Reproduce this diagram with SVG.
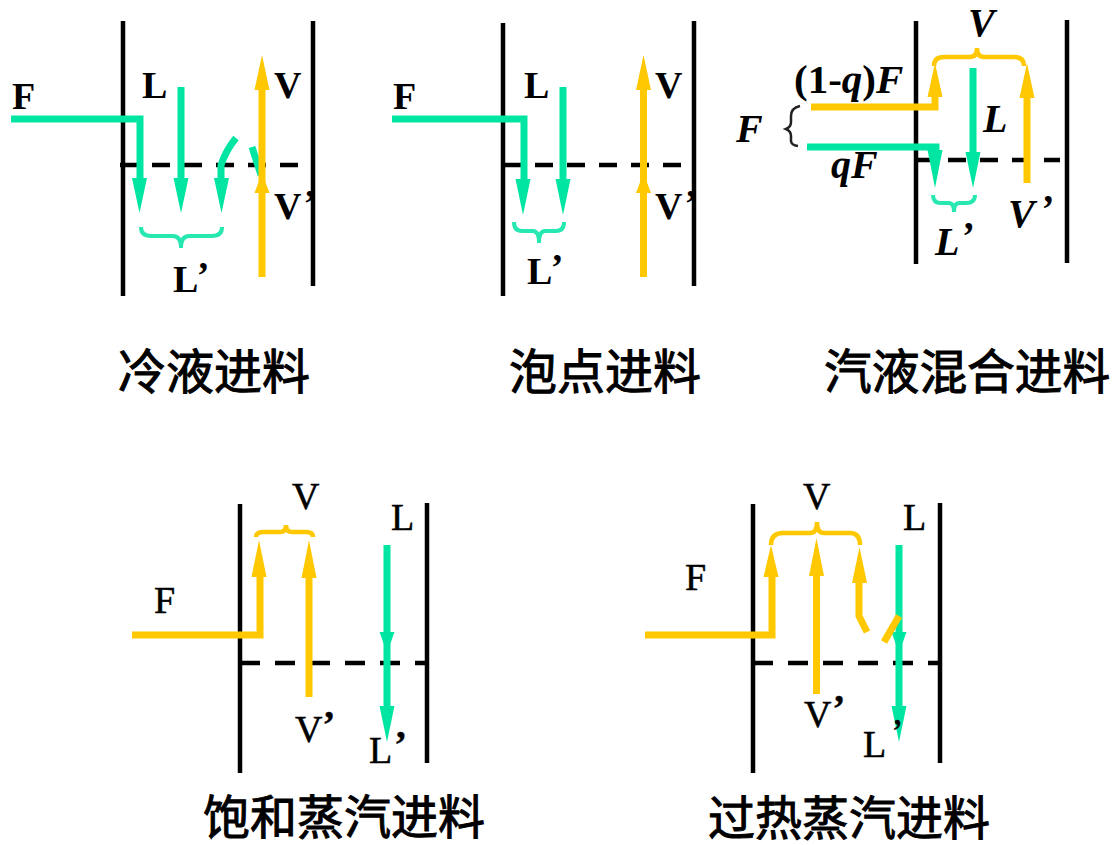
<svg xmlns="http://www.w3.org/2000/svg" width="1116" height="845" viewBox="0 0 1116 845">
<style>
.w{stroke:#000;stroke-width:4.5;fill:none}
.d{stroke:#000;stroke-width:4.5;stroke-dasharray:18 14;fill:none}
.d2{stroke-dasharray:20 15}
.g{stroke:#00e6a2;fill:none;stroke-width:7}
.y{stroke:#ffc800;fill:none;stroke-width:7}
.gb{stroke:#26e8b0;fill:none;stroke-width:4}
.yb{stroke:#ffc800;fill:none;stroke-width:4.5}
.t{font-family:"Liberation Serif",serif;font-weight:bold;font-size:38px;fill:#000}
.n{font-weight:normal;stroke:#000;stroke-width:.5}
.i{font-style:italic;font-size:40px}
.c{font-family:"Liberation Sans","Noto Sans CJK SC",sans-serif;font-size:48px;font-weight:400;fill:#000;stroke:#000;stroke-width:1}
.c2{font-size:47px}
.ga{fill:#00e6a2}.ya{fill:#ffc800}
</style>
<rect width="1116" height="845" fill="#fff"/>
<g id="column1"><path class="w" d="M123 21V296M313 21V286"/><path class="d" d="M120 165H314"/>
<text class="t" x="12" y="109">F</text><text class="t" x="142" y="98">L</text><text class="t" x="274" y="98">V</text><text class="t" x="274" y="219">V<tspan dx="2" dy="-3">’</tspan></text><text class="t" x="173" y="292">L<tspan dx="2" dy="-4">’</tspan></text><text class="c" x="118" y="389">冷液进料</text></g>
<g id="column2"><path class="w" d="M503 23V296M694 21V286"/><path class="d" d="M503 165H693"/>
<text class="t" x="393" y="109">F</text><text class="t" x="524" y="98">L</text><text class="t" x="655" y="98">V</text><text class="t" x="655" y="219">V<tspan dx="2" dy="-3">’</tspan></text><text class="t" x="527" y="284">L<tspan dx="2" dy="-4">’</tspan></text><text class="c" x="509" y="389">泡点进料</text></g>
<g id="column3"><path class="w" d="M916 21V264M1067 20V263"/><path class="d" d="M916 160H1060"/>
<path d="M800 106Q791 108 791 116V122Q791 127 786 129Q791 131 791 136V141Q791 145 798 146" fill="none" stroke="#222" stroke-width="2.5"/>
<text class="t i" x="968" y="36">V</text><text class="t" x="794" y="93" style="font-size:41px">(1-<tspan class="i" style="font-size:41px">q</tspan>)<tspan class="i" style="font-size:41px">F</tspan></text><text class="t i" x="736" y="142">F</text><text class="t i" x="983" y="132">L</text><text class="t i" x="831" y="178">qF</text><text class="t i" x="935" y="255">L<tspan dx="3" dy="-6">’</tspan></text><text class="t i" x="1008" y="227">V<tspan dx="5" dy="-5">’</tspan></text><text class="c" style="font-size:47.7px" x="824" y="389">汽液混合进料</text></g>
<g id="column4"><path class="w" d="M240 504V773M427 503V763"/><path class="d d2" d="M240 663H427"/>
<text class="t n" x="292" y="509">V</text><text class="t n" x="391" y="530">L</text><text class="t n" x="154" y="613">F</text><text class="t n" x="295" y="742">V<tspan dx="0" dy="-5" font-weight="bold">’</tspan></text><text class="t n" x="369" y="763">L<tspan dx="2" dy="-6" font-weight="bold">’</tspan></text><text class="c c2" x="203" y="834">饱和蒸汽进料</text></g>
<g id="column5"><path class="w" d="M753 504V773M940 503V763"/><path class="d d2" d="M753 663H940"/>
<text class="t n" x="803" y="509">V</text><text class="t n" x="903" y="530">L</text><text class="t n" x="685" y="590">F</text><text class="t n" x="804" y="727">V<tspan dx="1" dy="-6" font-weight="bold">’</tspan></text><text class="t n" x="863" y="757">L</text><text class="c c2" x="708" y="835">过热蒸汽进料</text></g>
<g id="connectors">
<path class="g" d="M11 119H140V180"/><path class="ga" d="M132 178h15l-7.500 35z"/>
<path class="g" d="M181 87V180"/><path class="ga" d="M173.500 178h15l-7.500 35z"/>
<path class="g" d="M236 138Q226 150 221 165V180"/><path class="ga" d="M214 178h15l-7.500 35z"/>
<path class="g" d="M252 147L261 175"/>
<path class="y" d="M262 277V88"/><path class="ya" d="M254.500 90h15l-7.500-35z"/><path class="ya" d="M254.500 193h15l-7.500-20z"/>
<path class="g" d="M392 119H524V180"/><path class="ga" d="M515.500 179h15l-7.500 36z"/>
<path class="g" d="M563 87V180"/><path class="ga" d="M555.500 179h15l-7.500 36z"/>
<path class="y" d="M643.500 277V88"/><path class="ya" d="M636 90h15l-7.500-35z"/><path class="ya" d="M636 193h15l-7.500-20z"/>
<path class="y" d="M811 107H935V95"/><path class="ya" d="M927.500 97h15l-7.500-34z"/>
<path class="g" d="M807 147H936V152"/><path class="ga" d="M927.500 150h15l-7.500 38z"/>
<path class="g" d="M973 68V154"/><path class="ga" d="M965.500 152h15l-7.500 36z"/>
<path class="y" d="M1027 183V96"/><path class="ya" d="M1019.500 98h15l-7.500-35z"/>
<path class="y" d="M132 635H260V575"/><path class="ya" d="M251.500 577h15l-7.500-37z"/>
<path class="y" d="M309 697V576"/><path class="ya" d="M301.500 578h15l-7.500-38z"/>
<path class="g" d="M387 545V708"/><path class="ga" d="M379.500 632h15l-7.500 21z"/><path class="ga" d="M379.500 706h15l-7.500 36z"/>
<path class="y" d="M645 635H772V575"/><path class="ya" d="M763.500 577h15l-7.500-32z"/>
<path class="y" d="M816.500 694V574"/><path class="ya" d="M809 576h15l-7.500-38z"/>
<path class="y" d="M859 581V616L867 632"/><path class="ya" d="M852 583h15l-7.500-36z"/>
<path class="g" d="M899 545V708"/><path class="ga" d="M891.500 632h15l-7.500 21z"/><path class="ga" d="M891.500 706h15l-7.500 36z"/>
<path class="y" d="M884 642L899 616"/>
</g>
<g id="braces">
<path class="gb" d="M141 227Q141 236 151 236H173Q181 236 181 248Q181 236 189 236H212Q222 236 222 227"/>
<path class="gb" d="M514 222Q514 231 522 231H533Q539 231 539 243Q539 231 545 231H556Q564 231 564 222"/>
<path class="gb" d="M933 195Q933 203 941 203H949Q954 203 954 212Q954 203 959 203H966Q975 203 975 195"/>
<path class="yb" d="M934 66Q934 57 944 57H970Q977 57 977 48Q977 57 984 57H1014Q1024 57 1024 66"/>
<path class="yb" d="M256 537Q256 532 264 532H280Q286 532 286 525Q286 532 292 532H306Q313 532 313 537"/>
<path class="yb" d="M771 545Q771 533 783 533H810Q817 533 817 522Q817 533 824 533H850Q860 533 860 545"/>
</g>
<text class="t n" id="col5-prime" x="891" y="745" font-weight="bold">’</text>
</svg>
